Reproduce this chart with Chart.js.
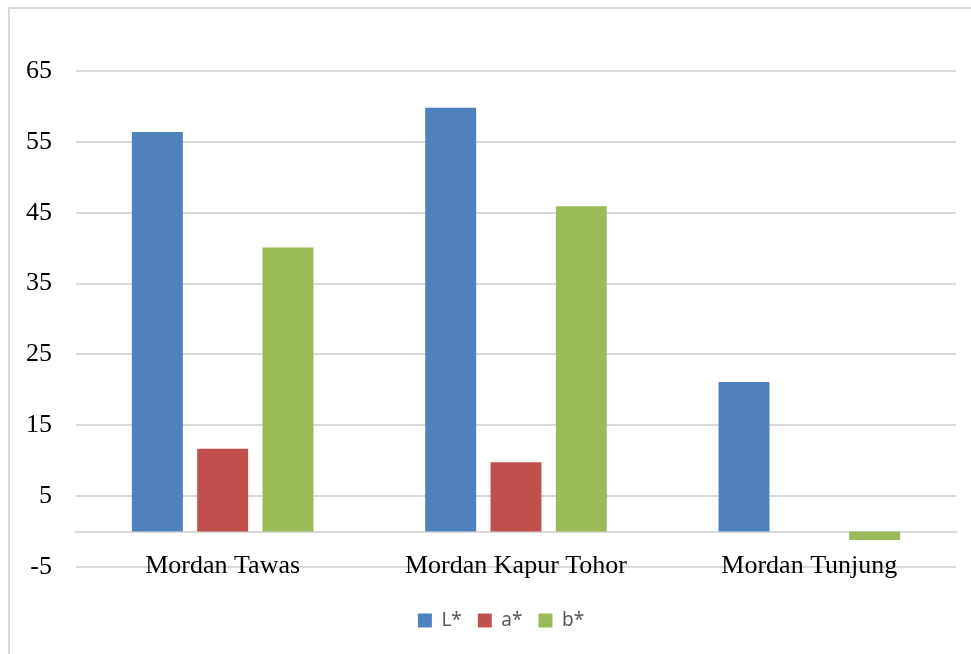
<!DOCTYPE html>
<html>
<head>
<meta charset="utf-8">
<script src="https://cdn.jsdelivr.net/npm/chart.js@4"></script>
<style>
  html, body { margin: 0; padding: 0; background: #fff; overflow: hidden; }
  .frame {
    position: absolute; left: 8px; top: 7px; width: 1000px; height: 700px;
    border: 2px solid #d9d9d9; box-sizing: border-box;
  }
  .wrap { position: absolute; left: 0; top: 0; width: 971px; height: 654px; }
</style>
</head>
<body>
<div class="frame"></div>
<div class="wrap"><canvas id="warnaChart"></canvas></div>
<script>
const kategori = ["Mordan Tawas", "Mordan Kapur Tohor", "Mordan Tunjung"];

const nilaiL = [56.4, 59.8, 21.1];
const nilaiA = [11.7, 9.8, 0];
const nilaiB = [40.1, 45.9, -1.2];

const yMin = -5;
const yMax = 65;
const yStep = 10;

const seriFont = "'Liberation Serif', 'Times New Roman', serif";

// legend in the original is centred on a slightly wider chart
const geserLegend = {
  id: "geserLegend",
  afterLayout(chart) {
    chart.legend.left += 23;
    chart.legend.right += 23;
  },
};

const ctx = document.getElementById("warnaChart").getContext("2d");

const myChart = new Chart(ctx, {
  type: "bar",
  data: {
    labels: kategori,
    datasets: [
      { label: "L*", data: nilaiL, backgroundColor: "#4f81bd" },
      { label: "a*", data: nilaiA, backgroundColor: "#c0504d" },
      { label: "b*", data: nilaiB, backgroundColor: "#9bbb59" },
    ],
  },
  options: {
    responsive: true,
    maintainAspectRatio: false,
    animation: false,
    layout: { padding: { top: 71, right: 15, bottom: 14, left: 0 } },
    datasets: {
      bar: { categoryPercentage: 0.668, barPercentage: 0.78 },
    },
    scales: {
      x: {
        position: { y: 0 },
        grid: { display: false },
        border: { display: true, color: "#d9d9d9", width: 2 },
        ticks: { color: "#000", font: { family: seriFont, size: 26 }, padding: 11 },
      },
      y: {
        min: yMin,
        max: yMax,
        ticks: {
          stepSize: yStep,
          color: "#000",
          padding: 24,
          font: { family: seriFont, size: 26 },
        },
        grid: { color: "#d9d9d9", lineWidth: 2, drawTicks: false },
        border: { display: false },
        afterFit: (scale) => { scale.width = 76; },
      },
    },
    plugins: {
      legend: {
        position: "bottom",
        title: { display: true, text: "", font: { size: 10, lineHeight: 1 }, padding: { top: 18, bottom: 0 } },
        labels: {
          boxWidth: 14,
          boxHeight: 14,
          padding: 16,
          color: "#595959",
          font: { family: "'Noto Sans', sans-serif", size: 19 },
        },
      },
      tooltip: { enabled: false },
    },
  },
  plugins: [geserLegend],
});
</script>
</body>
</html>
